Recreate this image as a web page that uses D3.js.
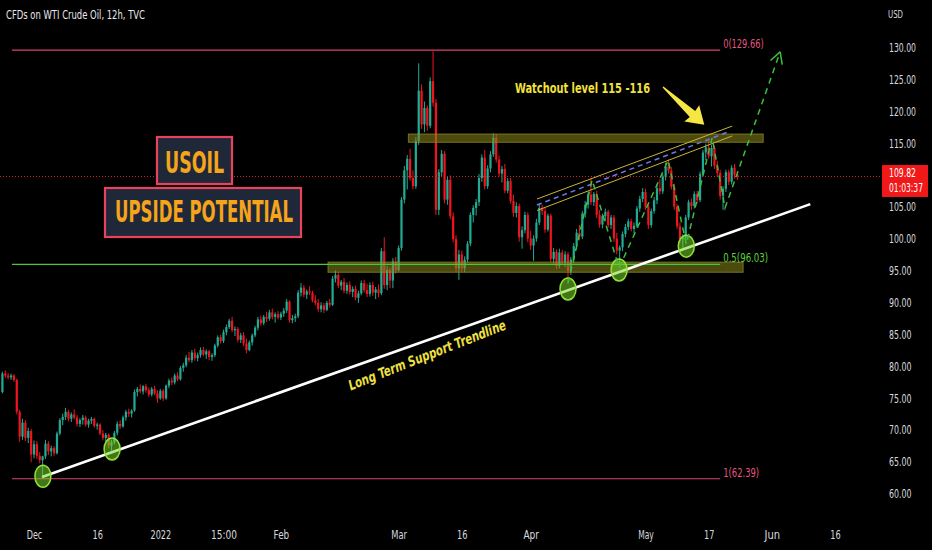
<!DOCTYPE html>
<html><head><meta charset="utf-8">
<script src="https://cdn.jsdelivr.net/npm/d3@7"></script>
<style>
html,body{margin:0;padding:0;background:#000;}
svg{display:block;}
text{font-family:"Liberation Sans Narrow","DejaVu Sans Condensed","Roboto Condensed","Liberation Sans",sans-serif;font-stretch:condensed;}
</style></head><body>
<svg id="c" width="932" height="550"></svg>
<script>
// ---- DATA (12h candles, bar index 0 = late Nov 2021) : [open, high, low, close]
const candles = [
[76.0,79.2,75.8,78.9],[78.9,79.4,78.2,78.6],[78.6,79.0,78.0,78.3],[78.3,78.9,77.9,78.6],[78.6,78.8,77.6,77.9],
[77.9,78.1,72.5,72.9],[72.9,73.2,68.2,69.0],[69.0,71.8,68.5,71.2],[71.2,71.6,68.3,68.8],[68.8,70.4,68.0,69.9],
[69.9,70.2,65.0,66.2],[66.2,68.4,65.6,67.8],[67.8,68.3,65.5,66.0],[66.0,66.6,64.8,65.3],[65.3,66.0,62.4,65.9],
[65.9,68.5,65.5,67.9],[67.9,68.3,66.1,66.7],[66.7,67.6,65.9,67.2],[67.2,67.5,66.0,66.4],[66.4,69.8,66.2,69.5],
[69.5,71.9,69.2,71.6],[71.6,72.6,70.8,72.1],[72.1,73.5,71.6,72.9],[72.9,73.2,71.4,71.8],[71.8,72.8,71.3,72.5],
[72.5,73.3,71.7,72.0],[72.0,72.4,70.6,71.0],[71.0,71.9,70.5,71.6],[71.6,72.4,70.9,72.0],[72.0,72.3,70.6,70.9],
[70.9,71.8,70.4,71.5],[71.5,72.1,71.0,71.8],[71.8,72.0,70.4,70.7],[70.7,71.2,70.1,70.9],[70.9,71.1,69.2,69.5],
[69.5,70.0,68.4,68.8],[68.8,69.6,68.1,69.3],[69.3,69.5,67.2,67.6],[67.6,68.5,66.8,68.1],[68.1,69.9,67.8,69.6],
[69.6,71.4,69.2,71.0],[71.0,71.6,70.2,70.6],[70.6,72.3,70.4,72.0],[72.0,73.2,71.5,72.9],[72.9,73.4,72.1,72.6],
[72.6,73.3,72.0,73.1],[73.1,76.4,72.9,76.0],[76.0,76.8,75.3,76.5],[76.5,77.2,75.8,76.1],[76.1,77.1,75.6,76.9],
[76.9,77.3,75.9,76.3],[76.3,76.7,75.2,75.6],[75.6,76.8,75.3,76.5],[76.5,77.0,75.5,75.8],[75.8,76.3,74.3,75.0],
[75.0,76.5,74.8,76.2],[76.2,76.5,74.6,75.0],[75.0,77.2,74.8,77.0],[77.0,78.1,76.6,77.8],[77.8,78.3,77.1,77.5],
[77.5,78.9,77.2,78.6],[78.6,79.1,77.7,78.0],[78.0,80.1,77.8,79.8],[79.8,80.6,79.2,80.2],[80.2,81.8,79.9,81.4],
[81.4,82.3,80.7,81.0],[81.0,82.6,80.6,82.2],[82.2,82.8,80.9,81.3],[81.3,82.2,80.8,81.8],[81.8,83.0,81.4,82.6],
[82.6,83.1,81.6,81.9],[81.9,82.7,81.2,82.4],[82.4,82.6,81.0,81.5],[81.5,82.1,80.9,81.8],[81.8,83.6,81.5,83.3],
[83.3,84.9,83.0,84.6],[84.6,85.0,83.6,84.0],[84.0,85.8,83.7,85.4],[85.4,86.6,84.9,86.2],[86.2,87.5,85.9,87.2],
[87.2,87.8,85.4,85.7],[85.7,86.3,84.8,85.9],[85.9,86.2,83.8,84.2],[84.2,85.3,83.7,84.9],[84.9,85.4,83.2,83.6],
[83.6,84.4,82.1,82.6],[82.6,84.1,82.4,83.8],[83.8,85.2,83.3,84.9],[84.9,86.4,84.6,86.1],[86.1,87.8,85.7,87.4],
[87.4,88.0,86.4,86.8],[86.8,88.1,86.5,87.8],[87.8,88.6,87.0,87.5],[87.5,88.9,87.2,88.5],[88.5,89.1,87.4,87.8],
[87.8,88.5,86.9,88.2],[88.2,88.7,87.4,87.7],[87.7,88.6,87.3,88.3],[88.3,89.2,87.8,88.8],[88.8,90.6,88.4,90.2],
[90.2,90.4,86.9,87.3],[87.3,88.1,86.8,87.6],[87.6,88.3,87.0,87.9],[87.9,92.0,87.6,91.6],[91.6,93.1,91.0,92.4],
[92.4,92.8,90.9,91.3],[91.3,92.1,90.6,91.8],[91.8,92.6,91.2,91.6],[91.6,91.9,90.1,90.4],[90.4,91.2,89.6,90.0],
[90.0,90.6,88.6,89.0],[89.0,90.1,88.5,89.6],[89.6,90.0,88.4,88.9],[88.9,90.3,88.7,90.0],[90.0,90.6,89.3,89.7],
[89.7,94.2,89.5,93.8],[93.8,95.1,93.2,94.4],[94.4,94.8,92.3,92.7],[92.7,93.6,92.0,93.3],[93.3,93.9,91.5,91.9],
[91.9,93.2,91.4,92.8],[92.8,93.4,91.3,91.7],[91.7,92.6,90.9,92.2],[92.2,92.7,90.4,90.8],[90.8,91.9,90.0,91.5],
[91.5,93.5,91.2,93.1],[93.1,93.6,91.6,92.0],[92.0,93.0,90.9,91.4],[91.4,93.2,91.0,92.8],[92.8,93.3,91.1,91.6],
[91.6,92.5,90.6,92.1],[92.1,92.9,90.9,91.5],[91.5,98.6,91.2,98.1],[98.1,100.3,92.2,92.8],[92.8,95.8,92.0,95.2],
[95.2,95.6,92.3,93.5],[93.5,97.0,92.3,96.5],[96.5,97.2,94.6,95.1],[95.1,99.0,94.9,98.6],[98.6,106.6,98.2,106.2],
[106.2,111.5,105.6,110.8],[110.8,113.2,107.8,112.6],[112.6,114.2,109.2,109.6],[109.6,110.8,107.8,108.3],[108.3,116.0,107.9,115.4],
[115.4,127.6,114.8,123.3],[123.3,124.3,117.3,118.0],[118.0,121.6,116.8,120.6],[120.6,121.0,117.0,117.8],[117.8,125.4,117.4,124.8],
[124.8,129.5,120.8,121.4],[121.4,122.0,103.8,104.6],[104.6,111.0,103.8,110.5],[110.5,114.0,109.8,113.4],[113.4,113.8,105.6,106.2],
[106.2,109.8,105.4,109.3],[109.3,110.0,103.1,103.6],[103.6,104.2,99.5,100.0],[100.0,100.6,94.8,95.4],[95.4,98.3,93.6,97.6],
[97.6,98.2,94.9,95.4],[95.4,97.3,94.8,96.8],[96.8,99.7,96.4,99.3],[99.3,104.2,98.9,103.8],[103.8,105.3,102.6,104.9],
[104.9,106.3,103.7,105.8],[105.8,110.2,105.2,109.6],[109.6,113.3,109.0,112.8],[112.8,114.0,107.8,108.3],[108.3,111.6,107.9,111.1],
[111.1,113.8,110.5,113.3],[113.3,116.6,112.9,115.9],[115.9,116.5,112.0,112.5],[112.5,113.1,109.8,110.3],[110.3,111.5,108.9,111.0],
[111.0,111.8,107.2,107.6],[107.6,109.6,107.2,109.1],[109.1,109.6,105.6,106.0],[106.0,107.0,103.5,104.1],[104.1,105.8,103.4,105.2],
[105.2,105.6,99.6,100.3],[100.3,102.0,98.5,101.4],[101.4,104.3,100.9,103.8],[103.8,104.2,99.5,100.1],[100.1,101.3,98.3,99.0],
[99.0,100.6,96.6,100.1],[100.1,103.2,99.6,102.6],[102.6,105.6,102.2,104.9],[104.9,105.4,103.8,104.4],[104.4,104.9,101.0,101.5],
[101.5,104.0,101.2,103.7],[103.7,104.0,96.4,96.9],[96.9,98.6,96.2,98.0],[98.0,98.4,95.3,95.8],[95.8,98.5,95.4,97.9],
[97.9,98.3,95.9,96.3],[96.3,98.1,95.6,97.6],[97.6,98.0,93.0,95.0],[95.0,97.2,94.4,96.8],[96.8,99.4,96.2,98.9],
[98.9,101.6,98.4,101.0],[101.0,102.2,99.8,100.4],[100.4,104.4,100.0,104.0],[104.0,106.0,103.4,105.4],[105.4,107.5,104.8,107.0],
[107.0,109.6,105.4,105.8],[105.8,107.4,105.2,107.1],[107.1,107.6,103.3,103.8],[103.8,104.6,101.8,102.3],[102.3,104.0,101.7,103.6],
[103.6,104.8,102.8,104.3],[104.3,104.6,101.8,102.2],[102.2,103.8,101.6,103.4],[103.4,103.8,99.6,100.1],[100.1,101.0,97.6,98.2],
[98.2,99.0,95.6,98.7],[98.7,101.2,98.1,100.8],[100.8,102.4,100.3,101.9],[101.9,103.2,101.4,102.8],[102.8,103.2,101.2,101.6],
[101.6,102.6,100.9,102.1],[102.1,105.2,101.8,104.8],[104.8,106.8,104.3,106.3],[106.3,108.0,105.8,107.4],[107.4,107.9,104.6,105.1],
[105.1,105.6,101.6,102.2],[102.2,104.8,101.8,104.4],[104.4,106.6,104.0,106.1],[106.1,108.6,105.5,108.0],[108.0,109.4,107.0,107.5],
[107.5,110.2,107.1,109.8],[109.8,112.0,109.2,111.4],[111.4,112.5,110.3,110.8],[110.8,111.3,107.8,108.2],[108.2,108.7,104.6,105.1],
[105.1,105.5,101.6,102.0],[102.0,102.6,99.4,100.0],[100.0,100.8,98.6,100.3],[100.3,103.8,99.8,103.4],[103.4,106.2,103.0,105.8],
[105.8,106.4,104.6,105.2],[105.2,107.5,104.8,107.1],[107.1,107.6,105.6,106.1],[106.1,110.6,105.8,110.2],[110.2,114.0,109.8,113.6],
[113.6,115.0,112.4,114.4],[114.4,115.6,112.6,113.0],[113.0,114.8,111.4,114.3],[114.3,114.7,111.0,111.5],[111.5,112.3,109.8,110.4],
[110.4,110.9,106.2,106.8],[106.8,108.3,104.6,107.9],[107.9,110.9,107.4,110.5],[110.5,110.9,108.5,109.0],[109.0,111.6,108.6,111.2],
[111.2,111.8,109.5,110.1],[110.1,110.7,109.3,109.82]
];
const lastPrice = 109.82;
const countdown = "01:03:37";
const yTicks = [130,125,120,115,105,100,95,90,85,80,75,70,65,60];
const xTickIdx = [11,33,55,77,97,138,160,184,224,246,268,290];
const xTickLabels = ["Dec","16","2022","15:00","Feb","Mar","16","Apr","May","17","Jun","16"];
const fibLevels = [["0",129.66],["0.5",96.03],["1",62.39]];
const fibSpan = [3.3, 250];
const zones = [[115.2,116.5,141.4,265],[94.8,96.4,113.4,258]]; // [low, high, fromBar, toBar]
const trendline = [[13.8,62.66],[281.4,105.5]];
const touches = [[14.1,62.8],[38.2,67.06],[197,92.17],[214.8,95.16],[238.2,98.9]];
const channelMid = [[186.2,105.36],[252.6,116.8]];
const channelUp = [[186.2,106.3],[254.2,117.75]];
const channelLo = [[186.2,104.5],[254.2,116.2]];
const swingPath = [[197,93.1],[205.4,109.3],[214.8,95.5],[231.9,112.4],[238.2,99.2],[247.2,115.9],[251.7,104.9],[270.9,129.4]];
const title = "CFDs on WTI Crude Oil, 12h, TVC";

// ---- SCALES
const svg = d3.select("#c");
const x = d3.scaleLinear().domain([11, 290]).range([34, 835]);
const y = d3.scaleLinear().domain([60, 130]).range([494, 48]);
const UP = "#22ab94", DN = "#f0141e";
const CH = 4.5; // px per character for condensed small labels

svg.append("rect").attr("width",932).attr("height",550).attr("fill","#000");

// ---- CANDLES
const gC = svg.append("g");
candles.forEach((c,i)=>{
  const [o,h,l,cl]=c, col = cl>=o?UP:DN, cx=x(i);
  gC.append("line").attr("x1",cx).attr("x2",cx).attr("y1",y(h)).attr("y2",y(l)).attr("stroke",col).attr("stroke-width",1);
  const top=y(Math.max(o,cl)), bot=y(Math.min(o,cl));
  gC.append("rect").attr("x",cx-1.1).attr("width",2.2).attr("y",top).attr("height",Math.max(1,bot-top)).attr("fill",col);
});

// ---- ZONES
zones.forEach(z=>{
  svg.append("rect").attr("x",x(z[2])).attr("width",x(z[3])-x(z[2]))
    .attr("y",y(z[1])).attr("height",y(z[0])-y(z[1]))
    .attr("fill","rgba(140,135,30,0.55)").attr("stroke","rgba(150,145,35,0.7)").attr("stroke-width",1);
});

// ---- LAST PRICE LINE
svg.append("line").attr("x1",0).attr("x2",882).attr("y1",y(lastPrice)).attr("y2",y(lastPrice))
  .attr("stroke","#e0262c").attr("stroke-width",1).attr("stroke-dasharray","1,2");

// ---- FIB LEVELS
fibLevels.forEach(f=>{
  const col = f[0]==="0.5" ? "#47c93a" : "#d8436f";
  const tcol = f[0]==="0.5" ? "#5fd13a" : "#e2567f";
  const s = f[0]+"("+f[1].toFixed(2)+")";
  svg.append("line").attr("x1",x(fibSpan[0])).attr("x2",x(fibSpan[1])).attr("y1",y(f[1])).attr("y2",y(f[1]))
    .attr("stroke",col).attr("stroke-width",1.2);
  svg.append("text").attr("x",x(fibSpan[1])+3).attr("y",y(f[1])-2).attr("fill",tcol)
    .attr("font-size",11.5).attr("textLength",s.length*4.5).attr("lengthAdjust","spacingAndGlyphs").text(s);
});

// ---- CHANNEL
const ln = d3.line().x(d=>x(d[0])).y(d=>y(d[1]));
svg.append("path").attr("d",ln(channelUp)).attr("stroke","#c9b53a").attr("stroke-width",1).attr("fill","none");
svg.append("path").attr("d",ln(channelLo)).attr("stroke","#c9b53a").attr("stroke-width",1).attr("fill","none");
svg.append("path").attr("d",ln(channelMid)).attr("stroke","#6a78f0").attr("stroke-width",1.5).attr("stroke-dasharray","5,4").attr("fill","none");

// ---- TRENDLINE
svg.append("path").attr("d",ln(trendline)).attr("stroke","#ffffff").attr("stroke-width",2.6).attr("fill","none");

// ---- TOUCH ELLIPSES
touches.forEach(t=>{
  svg.append("ellipse").attr("cx",x(t[0])).attr("cy",y(t[1])).attr("rx",8).attr("ry",11)
    .attr("fill","rgba(120,215,40,0.55)").attr("stroke","#8fe13a").attr("stroke-width",1.5);
});

// ---- SWING PATH + ARROW
svg.append("path").attr("d",ln(swingPath)).attr("stroke","#3cbf3c").attr("stroke-width",1.5)
  .attr("stroke-dasharray","6,5").attr("fill","none");
{
  const a = swingPath[swingPath.length-2], b = swingPath[swingPath.length-1];
  const ax=x(a[0]), ay=y(a[1]), bx=x(b[0]), by=y(b[1]);
  const ang = Math.atan2(by-ay, bx-ax);
  [-0.5,0.5].forEach(s=>{
    const t = ang+Math.PI+s;
    svg.append("line").attr("x1",bx).attr("y1",by).attr("x2",bx+13*Math.cos(t)).attr("y2",by+13*Math.sin(t))
      .attr("stroke","#3cbf3c").attr("stroke-width",1.5);
  });
}

// ---- ANNOTATION TEXTS
svg.append("text").attr("x",515).attr("y",93).attr("fill","#f2e23c").attr("font-size",14).attr("font-weight","bold")
  .attr("textLength",135).attr("lengthAdjust","spacingAndGlyphs").text("Watchout level 115 -116");
{
  const L=56, g=svg.append("g").attr("transform","translate(663,87) rotate(42.5)");
  g.append("polygon").attr("points",[[0,-0.6],[L-16,-4],[L-17,-11],[L,0],[L-17,11],[L-16,4],[0,0.6]].map(p=>p.join(",")).join(" "))
    .attr("fill","#f5e642");
}
svg.append("text").attr("transform","translate(427,355) rotate(-21.5)").attr("text-anchor","middle")
  .attr("dominant-baseline","central").attr("fill","#f0e040").attr("font-size",14).attr("font-style","italic")
  .attr("font-weight","bold").attr("textLength",168).attr("lengthAdjust","spacingAndGlyphs").text("Long Term Support Trendline");

// ---- BOXES
svg.append("rect").attr("x",157).attr("y",137).attr("width",75).attr("height",47)
  .attr("fill","#1f2838").attr("stroke","#e8425c").attr("stroke-width",2.2);
svg.append("text").attr("x",194.5).attr("y",173).attr("text-anchor","middle").attr("fill","#f5a41c")
  .attr("font-size",31).attr("font-weight","bold").attr("textLength",59).attr("lengthAdjust","spacingAndGlyphs").text("USOIL");
svg.append("rect").attr("x",105).attr("y",188).attr("width",196).attr("height",49)
  .attr("fill","#1f2838").attr("stroke","#e8425c").attr("stroke-width",2.2);
svg.append("text").attr("x",204).attr("y",222).attr("text-anchor","middle").attr("fill","#f5a41c")
  .attr("font-size",31).attr("font-weight","bold").attr("textLength",178).attr("lengthAdjust","spacingAndGlyphs").text("UPSIDE POTENTIAL");

// ---- AXES
const fam = '"Liberation Sans Narrow","DejaVu Sans Condensed","Roboto Condensed","Liberation Sans",sans-serif';
const yAx = svg.append("g").attr("transform","translate(889,0)")
  .call(d3.axisRight(y).tickValues(yTicks).tickFormat(d3.format(".2f")).tickSize(0).tickPadding(0));
yAx.select(".domain").remove();
yAx.selectAll("text").attr("fill","#d7d9df").attr("font-size",11.5).attr("font-family",fam).attr("text-anchor","start")
  .each(function(){ const t=d3.select(this); t.attr("textLength",t.text().length*CH).attr("lengthAdjust","spacingAndGlyphs"); });
const xAx = svg.append("g").attr("transform","translate(0,528)")
  .call(d3.axisBottom(x).tickValues(xTickIdx).tickFormat((d,i)=>xTickLabels[i]).tickSize(0).tickPadding(3));
xAx.select(".domain").remove();
xAx.selectAll("text").attr("fill","#d7d9df").attr("font-size",11.5).attr("font-family",fam)
  .each(function(){ const t=d3.select(this); t.attr("textLength",t.text().length*5.2).attr("lengthAdjust","spacingAndGlyphs"); });

svg.append("text").attr("x",888).attr("y",18).attr("fill","#d7d9df").attr("font-size",11)
  .attr("textLength",15).attr("lengthAdjust","spacingAndGlyphs").text("USD");
svg.append("text").attr("x",6).attr("y",19).attr("fill","#e6e8ec").attr("font-size",12.5)
  .attr("textLength",139).attr("lengthAdjust","spacingAndGlyphs").text(title);

// ---- PRICE LABEL
svg.append("rect").attr("x",882).attr("y",165).attr("width",46).attr("height",32).attr("fill","#f01818");
svg.append("text").attr("x",889).attr("y",177).attr("fill","#fff").attr("font-size",11.5)
  .attr("textLength",27).attr("lengthAdjust","spacingAndGlyphs").text(lastPrice.toFixed(2));
svg.append("text").attr("x",889).attr("y",192).attr("fill","#fff").attr("font-size",11.5)
  .attr("textLength",34).attr("lengthAdjust","spacingAndGlyphs").text(countdown);
</script>
</body></html>
